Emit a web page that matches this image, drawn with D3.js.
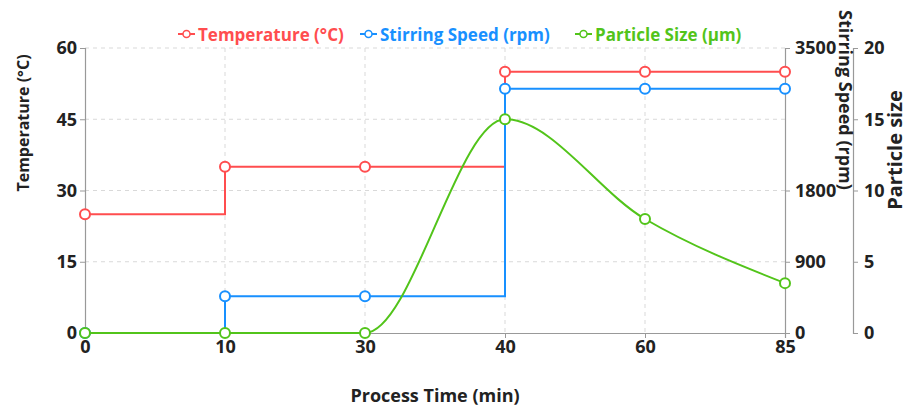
<!DOCTYPE html>
<html>
<head>
<meta charset="utf-8">
<script src="https://cdn.jsdelivr.net/npm/d3@7"></script>
<style>
  html, body { margin: 0; padding: 0; background: #fff; }
  svg { display: block; font-family: "Open Sans", "Noto Sans", sans-serif; }
</style>
</head>
<body>
<svg id="chart" width="907" height="407"></svg>
<script>
// ---- data ----
const categories = ["0", "10", "30", "40", "60", "85"];
const temperature = [25, 35, 35, 55, 55, 55];
const stirring = [0, 450, 450, 3000, 3000, 3000];
const particleSize = [0, 0, 0, 15, 8, 3.5];
const tempTicks = [0, 15, 30, 45, 60];
const stirTickLabels = ["0", "900", "1800", "3500"];
const stirTickLevels = [0, 15, 30, 60]; // aligned to temperature axis ticks
const particleTicks = [0, 5, 10, 15, 20];
const seriesNames = ["Temperature (°C)", "Stirring Speed (rpm)", "Particle Size (μm)"];
const colors = ["#ff4d4f", "#1890ff", "#52c41a"];

// ---- layout ----
const svg = d3.select("#chart");
const m = { left: 85, right: 785, top: 48, bottom: 333 };
const x = d3.scalePoint().domain(categories).range([m.left, m.right]).padding(0);
const yT = d3.scaleLinear().domain([0, 60]).range([m.bottom, m.top]);
const yS = d3.scaleLinear().domain([0, 3500]).range([m.bottom, m.top]);
const yP = d3.scaleLinear().domain([0, 20]).range([m.bottom, m.top]);
const axisColor = "#999";
const gridColor = "#d9d9d9";
const tickFont = "18px";

// grid
const grid = svg.append("g");
grid.selectAll("line.h").data(tempTicks.filter(d => d > 0)).join("line")
  .attr("x1", m.left).attr("x2", m.right)
  .attr("y1", d => yT(d)).attr("y2", d => yT(d))
  .attr("stroke", gridColor).attr("stroke-dasharray", "4,4");
grid.selectAll("line.v").data(categories.slice(1, -1)).join("line")
  .attr("x1", d => x(d)).attr("x2", d => x(d))
  .attr("y1", m.top).attr("y2", m.bottom)
  .attr("stroke", gridColor).attr("stroke-dasharray", "4,4");

function styleAxis(g) {
  g.select(".domain").attr("stroke", axisColor).attr("stroke-width", 1.2);
  g.selectAll(".tick line").attr("stroke", axisColor);
  g.selectAll(".tick text").attr("fill", "#222").style("font-size", tickFont)
    .style("font-weight", "700").style("font-family", '"Open Sans", sans-serif');
}

// x axis
svg.append("g").attr("transform", `translate(0,${m.bottom})`)
  .call(d3.axisBottom(x).tickSizeOuter(0).tickSize(5).tickPadding(2))
  .call(styleAxis);

// left axis
svg.append("g").attr("transform", `translate(${m.left},0)`)
  .call(d3.axisLeft(yT).tickValues(tempTicks).tickSizeOuter(0).tickSize(5).tickPadding(3))
  .call(styleAxis);

// stirring axis (ticks aligned to primary axis)
svg.append("g").attr("transform", `translate(${m.right},0)`)
  .call(d3.axisRight(yT).tickValues(stirTickLevels)
    .tickFormat((d, i) => stirTickLabels[i]).tickSizeOuter(0).tickSize(5).tickPadding(5))
  .call(styleAxis);

// particle axis
svg.append("g").attr("transform", `translate(853,0)`)
  .call(d3.axisRight(yP).tickValues(particleTicks).tickSizeOuter(0).tickSize(5).tickPadding(6))
  .call(styleAxis);

// axis titles
const titleStyle = (sel, size) => sel.attr("fill", "#222").style("font-weight", "700").style("font-size", size);
svg.append("text").attr("transform", "translate(23,123) rotate(-90)")
  .attr("text-anchor", "middle").attr("dominant-baseline", "central")
  .text("Temperature (°C)").call(titleStyle, "16px");
svg.append("text").attr("transform", "translate(846,10) rotate(90)")
  .attr("text-anchor", "start").attr("dominant-baseline", "central")
  .text("Stirring Speed (rpm)").call(titleStyle, "18px");
svg.append("text").attr("transform", "translate(894,150) rotate(-90)")
  .attr("text-anchor", "middle").attr("dominant-baseline", "central")
  .text("Particle size").call(titleStyle, "20px");
svg.append("text").attr("x", (m.left + m.right) / 2).attr("y", 395)
  .attr("text-anchor", "middle").attr("dominant-baseline", "central")
  .text("Process Time (min)").call(titleStyle, "18px");

// series
const series = [
  { vals: temperature, y: yT, curve: d3.curveStepAfter },
  { vals: stirring, y: yS, curve: d3.curveStepAfter },
  { vals: particleSize, y: yP, curve: d3.curveMonotoneX }
];
series.forEach((s, k) => {
  const pts = categories.map((c, i) => [x(c), s.y(s.vals[i])]);
  svg.append("path").datum(pts)
    .attr("d", d3.line().curve(s.curve))
    .attr("fill", "none").attr("stroke", colors[k]).attr("stroke-width", 2);
  svg.append("g").selectAll("circle").data(pts).join("circle")
    .attr("cx", d => d[0]).attr("cy", d => d[1]).attr("r", 5)
    .attr("fill", "#fff").attr("stroke", colors[k]).attr("stroke-width", 2);
});

// legend
const legendX = [178, 360, 575];
const lg = svg.append("g");
seriesNames.forEach((name, k) => {
  const g = lg.append("g").attr("transform", `translate(${legendX[k]},34)`);
  g.append("line").attr("x1", 0).attr("x2", 17).attr("y1", 0).attr("y2", 0)
    .attr("stroke", colors[k]).attr("stroke-width", 2);
  g.append("circle").attr("cx", 8.5).attr("cy", 0).attr("r", 3.5)
    .attr("fill", "#fff").attr("stroke", colors[k]).attr("stroke-width", 1.5);
  g.append("text").attr("x", 20).attr("y", 0).attr("dominant-baseline", "central")
    .attr("fill", colors[k]).style("font-weight", "700").style("font-size", "17px")
    .text(name);
});
</script>
</body>
</html>
